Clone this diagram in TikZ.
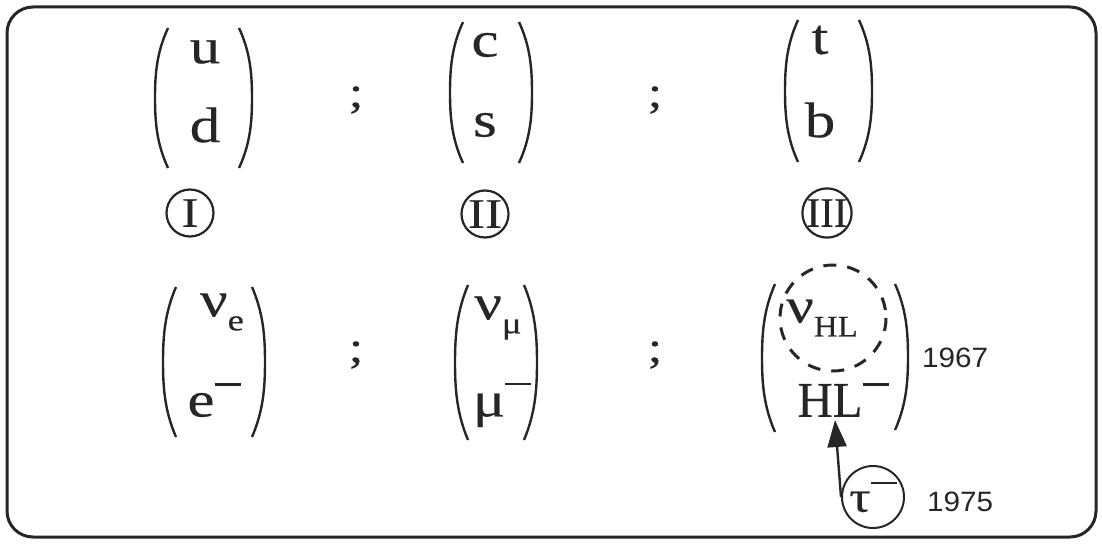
\documentclass[tikz,border=0pt]{standalone}
\usepackage{fontspec}
\setmainfont{Liberation Serif}[FakeStretch=1.22, FakeBold=0.3]
\newfontfamily\helv{Liberation Sans}[FakeStretch=1.06]
\usetikzlibrary{arrows.meta}
% subscript and superscript-minus helpers
\newcommand\lowsub[1]{\raisebox{-0.28em}{\fontsize{30}{30}\selectfont #1}}
\newcommand\supminus{\raisebox{0.62em}{\rule{26pt}{2.6pt}}}
% tall thin parentheses: x, top, bottom
\newcommand\Lpar[3]{\draw[parenline] (#1+13,#2) .. controls (#1+2,#2+0.17*#3-0.17*#2) and (#1,#2+0.32*#3-0.32*#2) .. (#1,#2/2+#3/2) .. controls (#1,#3-0.32*#3+0.32*#2) and (#1+2,#3-0.17*#3+0.17*#2) .. (#1+13,#3);}
\newcommand\Rpar[3]{\draw[parenline] (#1-13,#2) .. controls (#1-2,#2+0.17*#3-0.17*#2) and (#1,#2+0.32*#3-0.32*#2) .. (#1,#2/2+#3/2) .. controls (#1,#3-0.32*#3+0.32*#2) and (#1-2,#3-0.17*#3+0.17*#2) .. (#1-13,#3);}
\begin{document}
\begin{tikzpicture}[x=1pt,y=-1pt,
  ink/.style={black!85},
  frame/.style={draw=black!85, line width=3pt, rounded corners=26pt},
  parenline/.style={draw=black!85, line width=2.4pt},
  ltr/.style={inner sep=0pt, text=black!85, font=\fontsize{50}{50}\selectfont},
  semi/.style={inner sep=0pt, text=black!85, font=\fontsize{44}{44}\selectfont},
  gen/.style={circle, draw=black!85, line width=2.2pt, minimum size=47pt, inner sep=0pt,
              text=black!85, font=\fontsize{42}{42}\selectfont},
  year/.style={inner sep=0pt, text=black!85, font=\helv\fontsize{28}{28}\selectfont},
  arr/.style={draw=black!85, line width=2.4pt, -{Triangle[width=19pt,length=27pt]}}]
\useasboundingbox (0,0) rectangle (1102,543);
\draw[frame] (7,7) rectangle (1096,537);

% quark doublets
\node[ltr] (u) at (205,52) {u};
\node[ltr] (d) at (205,125) {d};
\Lpar{155}{28}{168}\Rpar{252}{28}{168}
\node[semi] (s1) at (356,100) {;};
\node[ltr] (c) at (485,45) {c};
\node[ltr] (s) at (485,125) {s};
\Lpar{450}{22}{163}\Rpar{532}{22}{163}
\node[semi] (s2) at (655,100) {;};
\node[ltr] (t) at (820,40) {t};
\node[ltr] (b) at (820,120) {b};
\Lpar{785}{20}{162}\Rpar{872}{20}{162}

% generation labels
\node[gen] (g1) at (190,213) {I};
\node[gen] (g2) at (485,214) {II};
\node[gen] (g3) at (827,213) {\scalebox{0.8}[1]{III}};

% lepton doublets
\node[ltr] (nue) at (222,312) {ν\lowsub{e}};
\node[ltr] (el) at (214,400) {e\supminus};
\Lpar{163}{287}{437}\Rpar{265}{287}{437}
\node[semi] (s3) at (356,355) {;};
\node[ltr] (num) at (498,318) {ν\lowsub{μ}};
\node[ltr] (mu) at (502,405) {μ\supminus};
\Lpar{455}{285}{440}\Rpar{537}{285}{440}
\node[semi] (s4) at (655,355) {;};
\node[ltr] (nuhl) at (822,318) {ν\lowsub{\scalebox{0.9}[1]{HL}}};
\node[ltr] (hl) at (843,400) {\scalebox{0.8}[1]{HL}\supminus};
\Lpar{762}{284}{432}\Rpar{908}{284}{430}
\draw[ink, line width=3pt, dash pattern=on 13pt off 11pt] (833,318) circle (53);
\node[year] (y1) at (955,358) {1967};

% tau
\node[circle, draw=black!85, line width=2pt, minimum size=62pt, inner sep=0pt,
      text=black!85, font=\fontsize{44}{44}\selectfont] (tau) at (873,497) {τ\supminus};
\node[year] (y2) at (960,502) {1975};
\coordinate (tip) at (835,420);
\draw[arr] (tau.west) -- (tip);
\end{tikzpicture}
\end{document}
